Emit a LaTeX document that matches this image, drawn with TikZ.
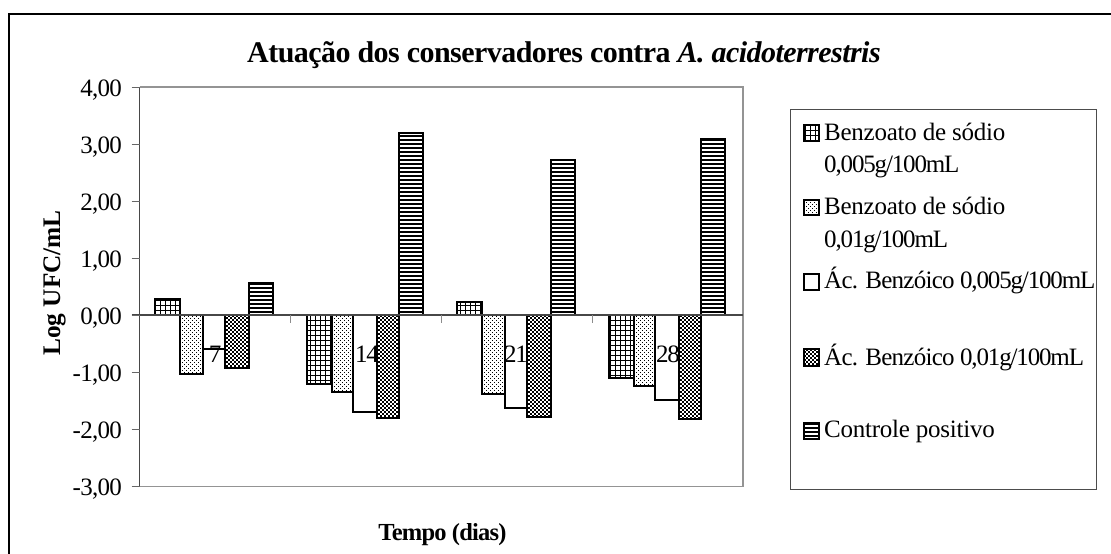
\documentclass[tikz,border=0pt]{standalone}
\usepackage{fontspec}
\setmainfont{Liberation Serif}
\newfontfamily\lsA{Liberation Serif}[LetterSpace=-1]
\newfontfamily\lsB{Liberation Serif}[LetterSpace=-3]
\newfontfamily\lsC{Liberation Serif}[LetterSpace=-4.6]
\newfontfamily\lsT{Liberation Serif}[LetterSpace=-1.8]
\newfontfamily\lsX{Liberation Serif}[LetterSpace=-3.2]
\tikzset{
  outerframe/.style={draw=black,line width=1.8pt},
  plotframe/.style={draw=black!42,line width=1.4pt},
  axisline/.style={draw=black!72,line width=1.2pt},
  tickline/.style={draw=black!60,line width=1pt},
  catline/.style={draw=black!45,line width=1pt},
  barline/.style={draw=black,line width=2pt,fill=white},
  legendbox/.style={draw=black!70,line width=1pt},
  sgrid/.style={path picture={
    \foreach \vx in {100,105,...,840} {\draw[black,line width=1pt] (\vx.5,90) -- (\vx.5,480);}
    \foreach \vy in {100,105,...,440} {\draw[black,line width=1pt] (100,\vy.5) -- (840,\vy.5);}
  }},
  sdots/.style={path picture={
    \foreach \vy in {132,136,...,400} {\draw[black,line width=1.1pt,dash pattern=on 1.1pt off 2.9pt] (100,\vy.5) -- (840,\vy.5);}
    \foreach \vy in {134,138,...,400} {\draw[black,line width=1.1pt,dash pattern=on 1.1pt off 2.9pt,dash phase=2pt] (100,\vy.5) -- (840,\vy.5);}
  }},
  swhite/.style={},
  scheck/.style={path picture={
    \foreach \vy in {312,316,...,424} {\draw[black,line width=2.2pt,dash pattern=on 2.4pt off 1.6pt] (100,\vy) -- (840,\vy);}
    \foreach \vy in {314,318,...,424} {\draw[black,line width=2.2pt,dash pattern=on 2.4pt off 1.6pt,dash phase=2pt] (100,\vy) -- (840,\vy);}
  }},
  shline/.style={path picture={
    \foreach \vy in {128,132,...,444} {\draw[black,line width=2.2pt] (100,\vy) -- (840,\vy);}
  }},
  ticklabel/.style={inner sep=0pt,anchor=base east,font=\lsB\fontsize{25}{28}\selectfont},
  catlabel/.style={inner sep=0pt,anchor=base,font=\lsC\fontsize{25}{28}\selectfont},
  legendlabel/.style={inner sep=0pt,anchor=base west,font=\lsA\fontsize{25}{28}\selectfont},
  axistitle/.style={inner sep=0pt,anchor=base,font=\bfseries\fontsize{25.3}{28}\selectfont},
  xaxistitle/.style={inner sep=0pt,anchor=base,font=\lsX\bfseries\fontsize{24.5}{28}\selectfont},
  charttitle/.style={inner sep=0pt,anchor=base west,font=\lsT\bfseries\fontsize{30}{33}\selectfont}
}
\begin{document}
\begin{tikzpicture}[x=1pt,y=-1pt]
\useasboundingbox (0,0) rectangle (1111,554);
\fill[white] (0,0) rectangle (1111,554);
% outer frame: only top and left edges lie inside the picture
\draw[outerframe] (1111,14) -- (9,14) -- (9,554);
% plot area
\draw[plotframe] (139.5,87) -- (743,87) -- (743,486.5) -- (139.5,486.5);
% bars
\foreach \xa/\xb/\yb/\st in {
  155/179.6/299.3/sgrid, 179.6/203/373.7/sdots, 203/225/349/swhite, 225/249/367.7/scheck, 249/273/283.3/shline,
  307/331.5/384/sgrid, 331.5/353/392.3/sdots, 353/377/412.3/swhite, 377/399/418.3/scheck, 399/423/132.6/shline,
  457/481.5/301.7/sgrid, 481.5/505/394/sdots, 505/527/408.3/swhite, 527/551/416.7/scheck, 551/575/160/shline,
  609/633.5/377.7/sgrid, 633.5/655/386/sdots, 655/679/399.7/swhite, 679/701/418.7/scheck, 701/725/139.3/shline}
  {\draw[barline,\st] (\xa,314.5) rectangle (\xb,\yb);}
% axes
\draw[axisline] (139.5,87) -- (139.5,486.5);
\draw[axisline] (131.5,315) -- (743,315);
\foreach \ty in {87,144,201,258,315,372,429,486}
  {\draw[tickline] (131.5,\ty) -- (139.5,\ty);}
\foreach \tx in {290.5,441,592.5}
  {\draw[catline] (\tx,315) -- (\tx,323);}
% tick labels
\foreach \nm/\ty/\tx in {a/87/{4,00},b/144/{3,00},c/201/{2,00},d/258/{1,00},e/315/{0,00},f/372/{-1,00},g/429/{-2,00},h/486/{-3,00}}
  {\node[ticklabel] (tick\nm) at (122,\ty+9.5) {\tx};}
% category labels
\node[catlabel] (cat7) at (215,362.7) {7};
\node[catlabel] (cat14) at (367,362.7) {14};
\node[catlabel] (cat21) at (516,362.7) {21};
\node[catlabel] (cat28) at (668,362.7) {28};
% titles
\node[charttitle] (title) at (247,62.7) {Atuação dos conservadores contra \textit{A. acidoterrestris}};
\node[axistitle,rotate=90] (ytitle) at (60,283) {Log UFC/mL};
\node[xaxistitle] (xtitle) at (442.5,540.7) {Tempo (dias)};
% legend
\draw[legendbox] (790.7,109) rectangle (1096,489.3);
\draw[barline,sgrid] (803.5,125) rectangle (818.5,140.5);
\draw[barline,sdots] (803.5,199.7) rectangle (818.5,215.2);
\draw[barline,swhite] (803.5,274) rectangle (818.5,289.5);
\draw[barline,scheck] (803.5,349) rectangle (818.5,365.5);
\draw[barline,shline] (803.5,422.5) rectangle (818.5,438.5);
\node[legendlabel] (l1a) at (824,140) {Benzoato de sódio};
\node[legendlabel,font=\lsC\fontsize{25}{28}\selectfont] (l1b) at (824,172.7) {0,005g/100mL};
\node[legendlabel] (l2a) at (824,214.3) {Benzoato de sódio};
\node[legendlabel,font=\lsC\fontsize{25}{28}\selectfont] (l2b) at (824,247.3) {0,01g/100mL};
\node[legendlabel] (l3) at (824,288) {{\lsB Ác. Benzóico }{\lsC 0,005g/100mL}};
\node[legendlabel] (l4) at (824,365) {{\lsB Ác. Benzóico }{\lsC 0,01g/100mL}};
\node[legendlabel] (l5) at (824,437.7) {Controle positivo};
\end{tikzpicture}
\end{document}
